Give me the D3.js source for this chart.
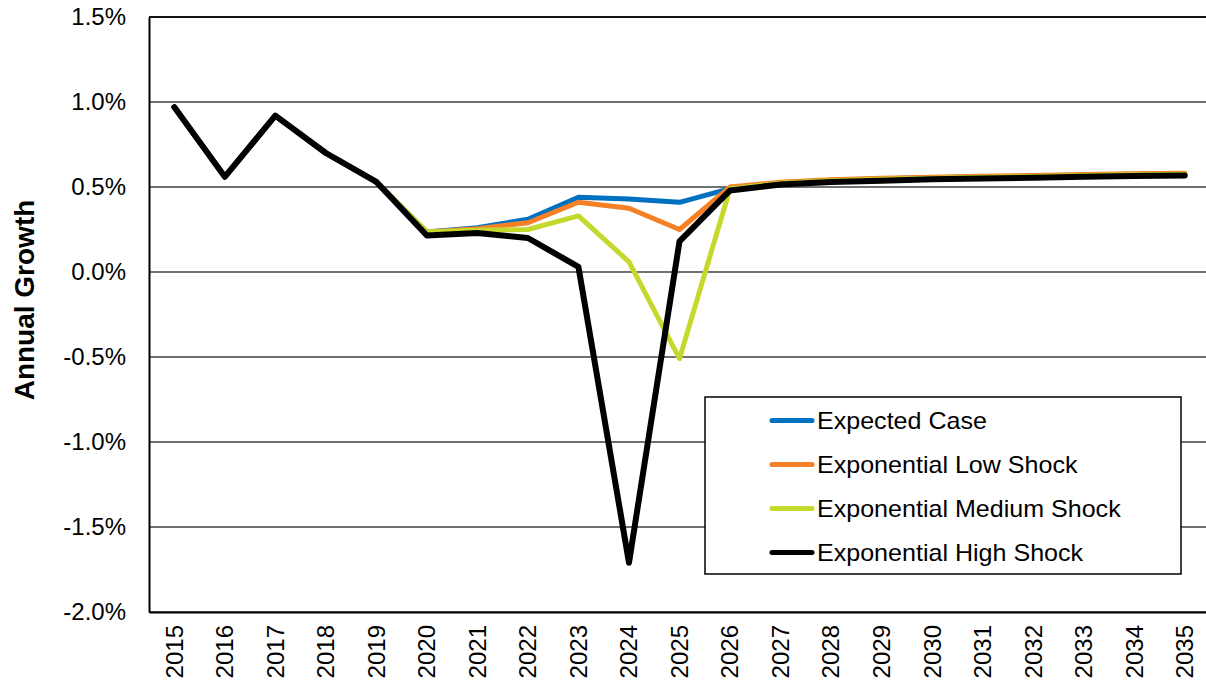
<!DOCTYPE html>
<html>
<head>
<meta charset="utf-8">
<script src="https://cdn.jsdelivr.net/npm/d3@7"></script>
<style>
  body { margin: 0; background: #fff; }
  svg { font-family: "Liberation Sans", Arial, sans-serif; }
</style>
</head>
<body>
<svg id="chart" width="1206" height="682"></svg>
<script>
'use strict';

// years along the x axis
const years = ['2015','2016','2017','2018','2019','2020','2021','2022','2023','2024',
  '2025','2026','2027','2028','2029','2030','2031','2032','2033','2034','2035'];

// annual growth in percent
const expectedCase = [0.97, 0.56, 0.92, 0.70, 0.53, 0.235, 0.26, 0.31, 0.44, 0.43,
  0.41, 0.49, 0.525, 0.54, 0.548, 0.555, 0.56, 0.565, 0.57, 0.575, 0.578];
const lowShock = [0.97, 0.56, 0.92, 0.70, 0.53, 0.235, 0.255, 0.29, 0.41, 0.375,
  0.25, 0.50, 0.528, 0.543, 0.551, 0.558, 0.563, 0.568, 0.573, 0.578, 0.581];
const mediumShock = [0.97, 0.56, 0.92, 0.70, 0.53, 0.235, 0.245, 0.25, 0.33, 0.06,
  -0.51, 0.49, 0.522, 0.537, 0.545, 0.552, 0.557, 0.562, 0.567, 0.572, 0.575];
const highShock = [0.97, 0.56, 0.92, 0.70, 0.53, 0.215, 0.23, 0.20, 0.03, -1.71,
  0.18, 0.48, 0.515, 0.53, 0.537, 0.545, 0.55, 0.555, 0.56, 0.565, 0.568];

const seriesNames = ['Expected Case', 'Exponential Low Shock',
  'Exponential Medium Shock', 'Exponential High Shock'];
const yTicks = [1.5, 1.0, 0.5, 0.0, -0.5, -1.0, -1.5, -2.0];

const series = [
  { name: seriesNames[0], values: expectedCase, color: '#0070c0', width: 5 },
  { name: seriesNames[1], values: lowShock, color: '#f58025', width: 5 },
  { name: seriesNames[2], values: mediumShock, color: '#c5d92d', width: 5 },
  { name: seriesNames[3], values: highShock, color: '#000000', width: 6 },
];

const svg = d3.select('#chart');
const plotL = 149, plotR = 1210, plotT = 17, plotB = 612;

const x = d3.scaleBand().domain(years).range([plotL, plotR]);
const y = d3.scaleLinear().domain([-2.0, 1.5]).range([plotB, plotT]);

// gridlines
svg.append('g')
  .selectAll('line')
  .data(yTicks)
  .join('line')
  .attr('x1', plotL).attr('x2', plotR)
  .attr('y1', d => y(d)).attr('y2', d => y(d))
  .attr('stroke', d => d === 1.5 ? '#111' : '#404040')
  .attr('stroke-width', d => d === 1.5 ? 2 : 1.5);

// y axis - plain hyphen for negatives like the original
const yAxis = svg.append('g')
  .attr('transform', `translate(${plotL},0)`)
  .call(d3.axisLeft(y).tickValues(yTicks).tickSize(0).tickPadding(23)
    .tickFormat(d => d.toFixed(1) + '%'));
yAxis.select('.domain').attr('stroke', '#000').attr('stroke-width', 2);
yAxis.selectAll('text').attr('font-size', 24).attr('fill', '#000')
  .attr('font-family', '"Liberation Sans", Arial, sans-serif');

// x axis
const xAxis = svg.append('g')
  .attr('transform', `translate(0,${plotB})`)
  .call(d3.axisBottom(x).tickSize(0).tickSizeOuter(0));
xAxis.select('.domain').attr('stroke', '#000').attr('stroke-width', 2);
xAxis.selectAll('text')
  .attr('font-size', 24).attr('fill', '#000')
  .attr('font-family', '"Liberation Sans", Arial, sans-serif')
  .attr('transform', 'rotate(-90)')
  .attr('text-anchor', 'end')
  .attr('x', -13).attr('y', 0).attr('dy', '0.35em');

// axis title
svg.append('text')
  .attr('transform', 'translate(34,300) rotate(-90)')
  .attr('text-anchor', 'middle')
  .attr('font-size', 28).attr('font-weight', 'bold')
  .text('Annual Growth');

// lines
const line = d3.line()
  .x((d, i) => x(years[i]) + x.bandwidth() / 2)
  .y(d => y(d));

svg.append('g')
  .selectAll('path')
  .data(series)
  .join('path')
  .attr('d', d => line(d.values))
  .attr('fill', 'none')
  .attr('stroke', d => d.color)
  .attr('stroke-width', d => d.width)
  .attr('stroke-linejoin', 'round')
  .attr('stroke-linecap', 'round');

// legend
const legend = svg.append('g');
legend.append('rect')
  .attr('x', 705).attr('y', 397).attr('width', 476).attr('height', 177)
  .attr('fill', '#fff').attr('stroke', '#000').attr('stroke-width', 1.5);
const rows = legend.selectAll('g.row')
  .data(series)
  .join('g')
  .attr('class', 'row')
  .attr('transform', (d, i) => `translate(0,${420.5 + i * 44})`);
rows.append('line')
  .attr('x1', 772).attr('x2', 812)
  .attr('stroke', d => d.color).attr('stroke-width', 5)
  .attr('stroke-linecap', 'round');
// the original text is a little wider than Arial, so stretch it a bit
rows.append('text')
  .attr('transform', 'translate(817,0) scale(1.09,1)')
  .attr('dy', '0.35em')
  .attr('font-size', 23)
  .text(d => d.name);
</script>
</body>
</html>
